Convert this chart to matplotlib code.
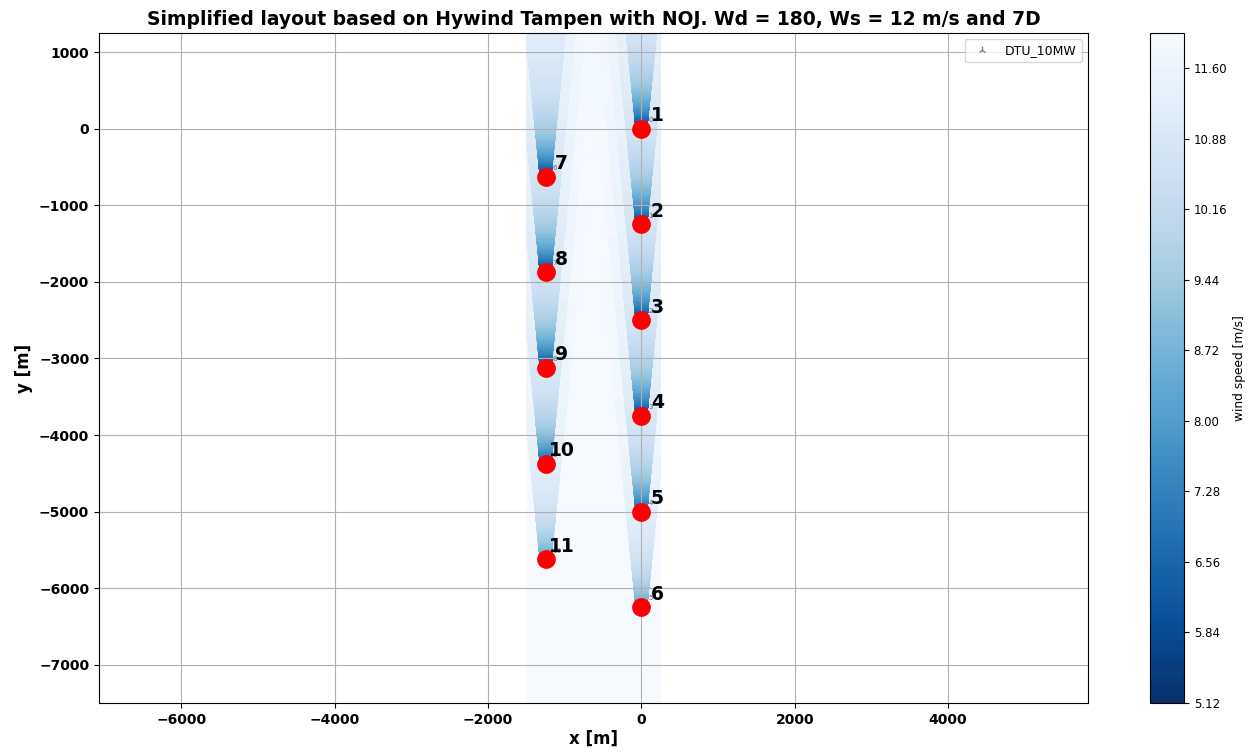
import numpy as np
import matplotlib
matplotlib.use('Agg')
import matplotlib.pyplot as plt
from matplotlib.ticker import MultipleLocator

# layout of the farm (m), wind from the south
turb_x = [0, 0, 0, 0, 0, 0, -1250, -1250, -1250, -1250, -1250]
turb_y = [0, -1250, -2500, -3750, -5000, -6250, -625, -1875, -3125, -4375, -5625]
turb_labels = ['1', '2', '3', '4', '5', '6', '7', '8', '9', '10', '11']

# DTU 10MW thrust curve
ct_ws = [4, 5, 6, 7, 8, 9, 10, 11, 12, 13, 14, 15, 16, 17, 18, 19, 20, 21, 22, 23, 24, 25]
ct_vals = [0.923, 0.919, 0.904, 0.858, 0.814, 0.814, 0.814, 0.814, 0.577, 0.419, 0.323,
           0.259, 0.211, 0.175, 0.148, 0.126, 0.109, 0.095, 0.084, 0.074, 0.066, 0.059]
diameter = 178.3
ws_free = 12.0
wake_k = 0.1

# flow map window
grid_x = [-1500, 250]
grid_y = [-7500, 1250]

cbar_ticks = [5.12, 5.84, 6.56, 7.28, 8.00, 8.72, 9.44, 10.16, 10.88, 11.60]

R = diameter / 2
tx = np.array(turb_x, dtype=float)
ty = np.array(turb_y, dtype=float)

# NOJ: effective ws and ct of each turbine, upstream first
ws_eff = np.zeros(len(tx))
ct = np.zeros(len(tx))
order = np.argsort(ty)
done = []
for i in order:
    sq = 0.0
    for j in done:
        dw = ty[i] - ty[j]
        cw = abs(tx[i] - tx[j])
        if dw > 0 and cw < R + wake_k * dw:
            d = ws_free * (1 - np.sqrt(1 - ct[j])) / (1 + wake_k * dw / R) ** 2
            sq += d ** 2
    ws_eff[i] = ws_free - np.sqrt(sq)
    ct[i] = np.interp(ws_eff[i], ct_ws, ct_vals)
    done.append(i)

# flow field
xs = np.linspace(grid_x[0], grid_x[1], 500)
ys = np.linspace(grid_y[0], grid_y[1], 1200)
X, Y = np.meshgrid(xs, ys)
sq = np.zeros_like(X)
for j in range(len(tx)):
    dw = Y - ty[j]
    cw = np.abs(X - tx[j])
    inside = (dw > 0) & (cw < R + wake_k * dw)
    d = ws_free * (1 - np.sqrt(1 - ct[j])) / (1 + wake_k * np.maximum(dw, 0) / R) ** 2
    sq += np.where(inside, d ** 2, 0)
WS = ws_free - np.sqrt(sq)

levels = np.linspace(5.12, 11.96, 96)
WS = np.clip(WS, levels[0], levels[-1])

fig = plt.figure(figsize=(12.53, 7.56), dpi=100)
ax = fig.add_axes([0.0790, 0.0701, 0.7893, 0.8862])
cax = fig.add_axes([0.9178, 0.0701, 0.0271, 0.8862])

cf = ax.contourf(X, Y, WS, levels=levels, cmap='Blues_r')
cb = fig.colorbar(cf, cax=cax, ticks=cbar_ticks, format='%.2f')
cb.ax.tick_params(labelsize=8.5)
cb.set_label('wind speed [m/s]', fontsize=8.8)

# turbines (pywake style) + index annotations
ax.plot(turb_x, turb_y, '2', color='gray', ms=6, ls='', label='DTU_10MW')
for i in range(len(tx)):
    ax.annotate(str(i), (tx[i] + R, ty[i] + R), fontsize=5, color='0.4')

ax.plot(turb_x, turb_y, 'o', color='red', ms=13.5, mew=0, zorder=4)
for i in range(len(tx)):
    ax.text(tx[i] + 210, ty[i] + 100, turb_labels[i], fontsize=13.5,
            fontweight='bold', ha='center', zorder=5)

ax.set_xlim(-7075, 5825)
ax.set_ylim(-7500, 1250)
ax.xaxis.set_major_locator(MultipleLocator(2000))
ax.yaxis.set_major_locator(MultipleLocator(1000))
ax.grid(True)
for lbl in ax.get_xticklabels() + ax.get_yticklabels():
    lbl.set_fontweight('bold')
    lbl.set_fontsize(10)

ax.set_xlabel('x [m]', fontsize=12, fontweight='bold', labelpad=2)
ax.set_ylabel('y [m]', fontsize=12, fontweight='bold')
ax.set_title('Simplified layout based on Hywind Tampen with NOJ. Wd = 180, Ws = 12 m/s and 7D',
             fontsize=13.5, fontweight='bold')
ax.legend(loc='upper right', fontsize=9)

fig.savefig('out.png', dpi=100)
